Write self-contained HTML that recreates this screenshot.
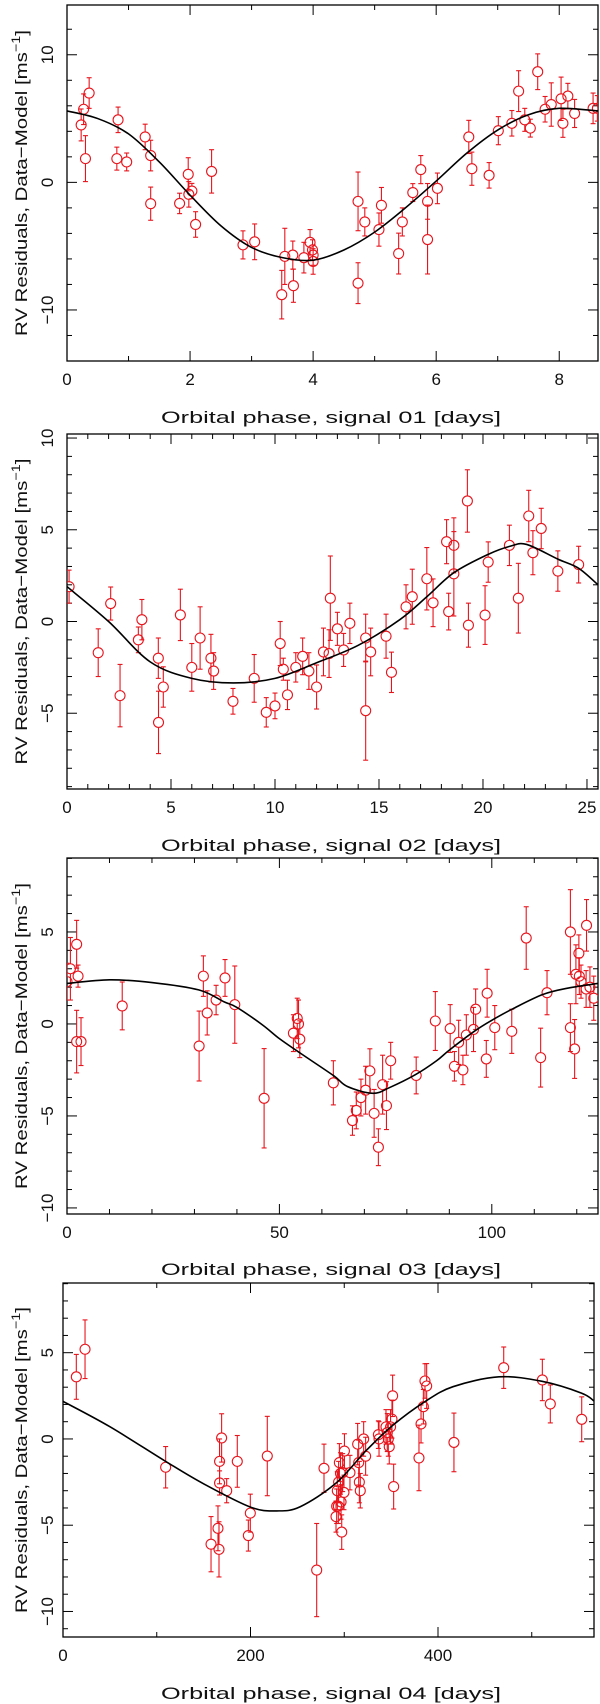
<!DOCTYPE html>
<html><head><meta charset="utf-8"><style>
html,body{margin:0;padding:0;background:#fff;}
svg{display:block;}
text{font-family:"Liberation Sans",sans-serif;fill:#111;}
</style></head><body>
<svg id="fig" width="600" height="1704" viewBox="0 0 600 1704" xmlns="http://www.w3.org/2000/svg"></svg>
<script>
// ---- Panel 1 data (signal 01) ----
const p1Phase=[0.23,0.27,0.36,0.30,0.83,0.81,0.97,1.27,1.36,1.36,1.83,1.97,1.98,2.03,2.09,2.35,2.86,3.05,3.49,3.54,3.67,3.68,3.85,3.95,3.99,4.0,4.0,4.73,4.73,4.84,5.07,5.11,5.39,5.45,5.62,5.75,5.86,5.86,6.02,6.53,6.58,6.86,7.01,7.23,7.34,7.44,7.53,7.65,7.77,7.87,8.03,8.06,8.14,8.25,8.55,8.62];
const p1Val=[4.5,5.73,7.0,1.86,4.9,1.86,1.6,3.56,2.1,-1.67,-1.65,0.63,-0.94,-0.68,-3.3,0.86,-4.9,-4.66,-8.8,-5.8,-5.7,-8.1,-5.9,-4.7,-5.3,-5.7,-6.2,-1.49,-7.9,-3.1,-3.7,-1.8,-5.58,-3.1,-0.8,1.0,-1.49,-4.48,-0.47,3.56,1.07,0.55,4.05,4.63,7.15,4.9,4.25,8.67,5.73,6.1,6.55,4.63,6.76,5.4,5.8,5.8];
const p1Err=[1.25,1.2,1.2,1.8,1.0,0.9,0.7,1.0,1.2,1.3,0.8,1.3,1.0,0.6,1.0,1.7,1.1,1.4,1.9,2.2,1.1,1.3,1.2,1.0,0.8,0.8,1.0,2.3,1.6,1.1,1.3,1.4,1.6,1.1,0.7,1.1,1.4,2.7,1.2,1.3,1.3,1.0,1.1,1.0,1.6,0.9,0.7,1.4,1.0,1.7,1.7,1.1,1.0,1.1,1.2,1.0];
const p1CurvePhase=[0,0.5,1,1.5,2,2.5,3,3.5,4,4.5,5,5.5,6,6.5,7,7.5,8,8.63];
const p1CurveVal=[5.6,5.0,3.8,1.6,-1.0,-3.4,-5.1,-5.9,-6.1,-5.3,-3.9,-2.0,0.1,2.3,4.1,5.3,5.8,5.6];
const p1XTicks=["0","2","4","6","8"];
const p1YTicks=["−10","0","10"];

// ---- Panel 2 data (signal 02) ----
const p2Phase=[0.1,1.5,2.1,2.55,3.43,3.6,4.39,4.4,4.63,5.45,6.0,6.4,6.92,7.05,7.98,9.0,9.58,10.0,10.25,10.4,10.6,11.0,11.33,11.63,12.0,12.33,12.6,12.66,13.0,13.3,13.6,14.36,14.36,14.6,15.34,15.6,16.3,16.6,17.3,17.6,18.25,18.35,18.6,18.6,19.25,19.3,20.1,20.25,21.27,21.7,22.2,22.4,22.8,23.6,24.6];
const p2Val=[1.9,-1.7,0.98,-4.04,-1.0,0.1,-2.0,-5.5,-3.57,0.36,-2.5,-0.9,-2.0,-2.7,-4.35,-3.1,-4.95,-4.6,-1.2,-2.6,-4.0,-2.5,-1.9,-2.7,-3.57,-1.66,-1.75,1.27,-0.4,-1.55,-0.1,-0.9,-4.86,-1.66,-0.8,-2.77,0.8,1.35,2.33,1.02,4.35,0.54,4.15,2.6,6.57,-0.2,0.35,3.24,4.15,1.27,5.75,3.75,5.07,2.75,3.1];
const p2Err=[0.9,1.3,0.9,1.7,0.7,1.1,1.1,1.7,1.1,1.4,1.3,1.7,1.3,1.0,0.7,1.3,0.8,0.7,1.2,0.6,0.8,0.8,1.0,1.0,1.2,1.3,1.3,2.3,0.9,0.9,1.1,1.3,2.7,1.3,1.2,1.1,1.2,1.5,1.7,1.3,1.2,1.0,1.5,2.3,1.7,1.2,1.6,1.1,1.1,1.9,1.4,1.2,1.1,1.1,1.0];
const p2CurvePhase=[0,2,4,6,8,10,12,14,16,17.3,18.6,20.25,21.3,22.1,23.6,24.6,25.53];
const p2CurveVal=[1.9,0,-2.2,-3.1,-3.35,-3.1,-2.25,-1.3,0.1,1.35,2.66,3.66,4.1,4.2,3.4,2.9,2.0];
const p2XTicks=["0","5","10","15","20","25"];
const p2YTicks=["−5","0","5","10"];

// ---- Panel 3 data (signal 03) ----
const p3Phase=[0.0,0.8,2.27,2.6,2.27,3.3,13.0,31.1,32.1,33.0,35.1,37.2,39.5,46.4,53.3,54.2,54.5,54.8,62.7,67.2,68.1,69.2,70.3,71.3,72.3,73.3,74.3,75.2,76.2,82.2,86.7,90.2,91.2,92.2,93.2,94.0,95.7,96.2,98.7,98.9,100.7,104.7,108.1,111.5,113.0,118.5,118.5,119.5,119.8,120.5,120.6,121.0,122.3,122.2,123.1,124.0];
const p3Val=[2.3,3.0,4.33,2.6,-0.96,-0.96,0.98,-1.2,2.6,0.6,1.3,2.5,1.05,-4.04,-0.5,0.3,0.0,-0.83,-3.2,-5.25,-4.7,-4.0,-3.6,-2.55,-4.86,-6.7,-3.3,-4.44,-2.0,-2.8,0.16,-0.25,-2.3,-1.0,-2.5,-0.6,-0.3,0.8,-1.9,1.67,-0.2,-0.4,4.67,-1.83,1.7,5.0,-0.2,-1.36,2.7,3.84,2.6,2.3,5.36,1.9,2.0,1.4];
const p3Err=[1.0,1.7,1.3,0.6,1.7,1.3,1.3,1.9,1.1,1.2,0.8,1.0,2.1,2.7,1.0,1.1,1.3,1.0,1.2,0.8,1.0,1.0,1.3,1.2,1.3,1.0,1.6,1.3,1.0,1.0,1.6,1.3,0.8,1.2,0.8,1.1,1.2,1.1,1.0,1.3,1.2,1.2,1.7,1.6,1.2,2.3,1.3,1.6,1.6,1.0,1.0,0.9,1.4,1.0,1.1,1.2];
const p3CurvePhase=[0,10,20,31,37,40,46,50,55,62.7,66,72,76,82,87,90,96,100,105,112,118,125];
const p3CurveVal=[2.2,2.4,2.25,1.85,1.2,0.9,-0.05,-0.8,-1.6,-2.8,-3.4,-3.77,-3.45,-2.76,-2.0,-1.42,-0.38,0.2,0.83,1.6,1.95,2.2];
const p3XTicks=["0","50","100"];
const p3YTicks=["−10","−5","0","5"];

// ---- Panel 4 data (signal 04) ----
const p4Phase=[14.2,23.5,109.5,157.9,165.3,166.4,167,167,169.2,174.6,185.9,197.7,199.8,217.9,270.6,278.4,291.2,291.9,292.6,293.7,294,294.8,296,296.6,297.3,298.3,299.7,300.2,306.1,314.3,315.4,316.1,317.1,320.7,322.8,336.4,337.1,344.5,345.9,347,348,349.4,350.9,351.6,352.7,379.7,381.9,384.4,386.1,387.9,417,470.1,511.3,519.8,553.3];
const p4Val=[3.6,5.2,-1.64,-6.1,-5.18,-6.4,-1.3,-2.55,0.06,-3.0,-1.3,-5.6,-4.3,-0.99,-7.6,-1.7,-4.5,-3.9,-3.0,-3.9,-2.5,-1.37,-2.0,-3.65,-5.4,-1.95,-3.1,-0.7,-1.95,-0.3,-1.37,-2.5,-3.0,0.0,-1.0,0.25,0.0,0.7,0.37,0.0,-0.45,0.7,1.15,2.5,-2.76,-1.1,0.87,1.87,3.36,3.07,-0.2,4.13,3.42,2.03,1.14];
const p4Err=[1.3,1.7,1.2,1.6,1.3,1.6,1.3,0.7,1.4,0.7,1.5,0.9,1.1,2.3,2.7,1.4,0.9,1.0,1.1,1.0,1.2,1.1,1.2,1.0,1.0,1.1,1.0,1.0,1.0,1.2,1.3,1.2,1.0,1.0,1.1,0.8,1.0,1.0,1.1,1.0,1.0,1.0,1.1,1.2,1.3,1.9,1.1,1.0,1.0,1.3,1.7,1.2,1.2,1.1,1.3];
const p4CurvePhase=[0,50,109.5,150,200,228,253,291,324,352,386,416,465,511,553,566.4];
const p4CurveVal=[2.18,0.71,-1.3,-2.6,-3.95,-4.17,-3.93,-2.57,-0.64,0.8,2.16,3.03,3.6,3.34,2.66,2.2];
const p4XTicks=["0","200","400"];
const p4YTicks=["−10","−5","0","5"];

const NS="http://www.w3.org/2000/svg";
const svg=document.getElementById('fig');
const RED="#e8141c";

function mk(tag,attrs,parent){const e=document.createElementNS(NS,tag);for(const k in attrs)e.setAttribute(k,attrs[k]);(parent||svg).appendChild(e);return e;}
function num(s){return parseFloat(s.replace('−','-'));}

function drawPanel(id,box,xd,yd,xMinor,xTicks,yMinor,yTicks,phase,val,err,cPh,cVal,title,titleY){
  const g=mk('g',{});
  
  
  const sx=v=>box.l+(v-xd[0])/(xd[1]-xd[0])*(box.r-box.l);
  const sy=v=>box.b-(v-yd[0])/(yd[1]-yd[0])*(box.b-box.t);
  const clip=mk('clipPath',{id:'clip'+id},g);
  mk('rect',{x:box.l,y:box.t,width:box.r-box.l,height:box.b-box.t},clip);
  const tg=mk('g',{stroke:'#000','stroke-width':1},g);
  
  
  const majX=xTicks.map(num), majY=yTicks.map(num);
  const isMaj=(v,arr)=>arr.some(a=>Math.abs(a-v)<1e-6);
  for(let v=Math.ceil(xd[0]/xMinor)*xMinor; v<=xd[1]+1e-9; v+=xMinor){
    const L=isMaj(v,majX)?10:5, x=sx(v);
    mk('line',{x1:x,x2:x,y1:box.b,y2:box.b-L},tg);
    mk('line',{x1:x,x2:x,y1:box.t,y2:box.t+L},tg);
  }
  for(let v=Math.ceil(yd[0]/yMinor)*yMinor; v<=yd[1]+1e-9; v+=yMinor){
    const L=isMaj(v,majY)?10:5, y=sy(v);
    mk('line',{x1:box.l,x2:box.l+L,y1:y,y2:y},tg);
    mk('line',{x1:box.r,x2:box.r-L,y1:y,y2:y},tg);
  }
  const frame=mk('rect',{x:box.l,y:box.t,width:box.r-box.l,height:box.b-box.t,fill:'none',stroke:'#000','stroke-width':1.3},g);
  
  
  xTicks.forEach(t=>{
    const e=mk('text',{x:sx(num(t)),y:box.b+24,'font-size':17,'text-anchor':'middle'},g);
    e.textContent=t;
    
    
  });
  yTicks.forEach(t=>{
    const y=sy(num(t));
    const e=mk('text',{x:0,y:0,'font-size':17,'text-anchor':'middle',transform:`translate(53,${y}) rotate(-90)`},g);
    e.textContent=t;
    
    
  });
  const cy=(box.t+box.b)/2;
  const yt=mk('text',{x:0,y:0,'font-size':17,'text-anchor':'middle',transform:`translate(27,${cy}) rotate(-90)`,textLength:306,lengthAdjust:'spacingAndGlyphs'},g);
  
  
  yt.appendChild(document.createTextNode('RV Residuals, Data−Model [ms'));
  const sup=mk('tspan',{dy:-7,'font-size':12},yt); sup.textContent='−1';
  const cl=mk('tspan',{dy:7},yt); cl.textContent=']';
  const xt=mk('text',{x:331,y:titleY+6,'font-size':17,'text-anchor':'middle',textLength:340,lengthAdjust:'spacingAndGlyphs'},g);
  xt.textContent=title;
  
  
  const dg=mk('g',{'clip-path':`url(#clip${id})`,stroke:RED,fill:'none','stroke-width':1.1},g);
  
  
  for(let i=0;i<phase.length;i++){
    const x=sx(phase[i]), y=sy(val[i]), y1=sy(val[i]+err[i]), y2=sy(val[i]-err[i]);
    const pg=mk('g',{},dg);
    
    
    mk('line',{x1:x,x2:x,y1:y1,y2:y-5},pg);
    mk('line',{x1:x,x2:x,y1:y+5,y2:y2},pg);
    mk('line',{x1:x-2.5,x2:x+2.5,y1:y1,y2:y1},pg);
    mk('line',{x1:x-2.5,x2:x+2.5,y1:y2,y2:y2},pg);
    mk('circle',{cx:x,cy:y,r:5},pg);
  }
  const P=cPh.map((p,i)=>[sx(p),sy(cVal[i])]);
  let d=`M${P[0][0]},${P[0][1]}`;
  for(let i=0;i<P.length-1;i++){
    const p0=P[Math.max(0,i-1)],p1=P[i],p2=P[i+1],p3=P[Math.min(P.length-1,i+2)];
    const c1=[p1[0]+(p2[0]-p0[0])/6,p1[1]+(p2[1]-p0[1])/6];
    const c2=[p2[0]-(p3[0]-p1[0])/6,p2[1]-(p3[1]-p1[1])/6];
    d+=` C${c1[0]},${c1[1]} ${c2[0]},${c2[1]} ${p2[0]},${p2[1]}`;
  }
  const cv=mk('path',{d:d,fill:'none',stroke:'#000','stroke-width':1.6,'clip-path':`url(#clip${id})`},g);
  
  
}

drawPanel(1,{l:67,r:598,t:5,b:361},[0,8.63],[-14,13.9],1,p1XTicks,2,p1YTicks,p1Phase,p1Val,p1Err,p1CurvePhase,p1CurveVal,'Orbital phase, signal 01 [days]',417);
drawPanel(2,{l:67,r:598,t:434,b:789},[0,25.53],[-9.13,10.22],1,p2XTicks,1,p2YTicks,p2Phase,p2Val,p2Err,p2CurvePhase,p2CurveVal,'Orbital phase, signal 02 [days]',845);
drawPanel(3,{l:67,r:598,t:858,b:1214},[0,125],[-10.33,9.02],10,p3XTicks,1,p3YTicks,p3Phase,p3Val,p3Err,p3CurvePhase,p3CurveVal,'Orbital phase, signal 03 [days]',1269);
drawPanel(4,{l:63,r:594,t:1283,b:1637},[0,566.4],[-11.48,9.04],100,p4XTicks,1,p4YTicks,p4Phase,p4Val,p4Err,p4CurvePhase,p4CurveVal,'Orbital phase, signal 04 [days]',1693);
</script>
</body></html>
